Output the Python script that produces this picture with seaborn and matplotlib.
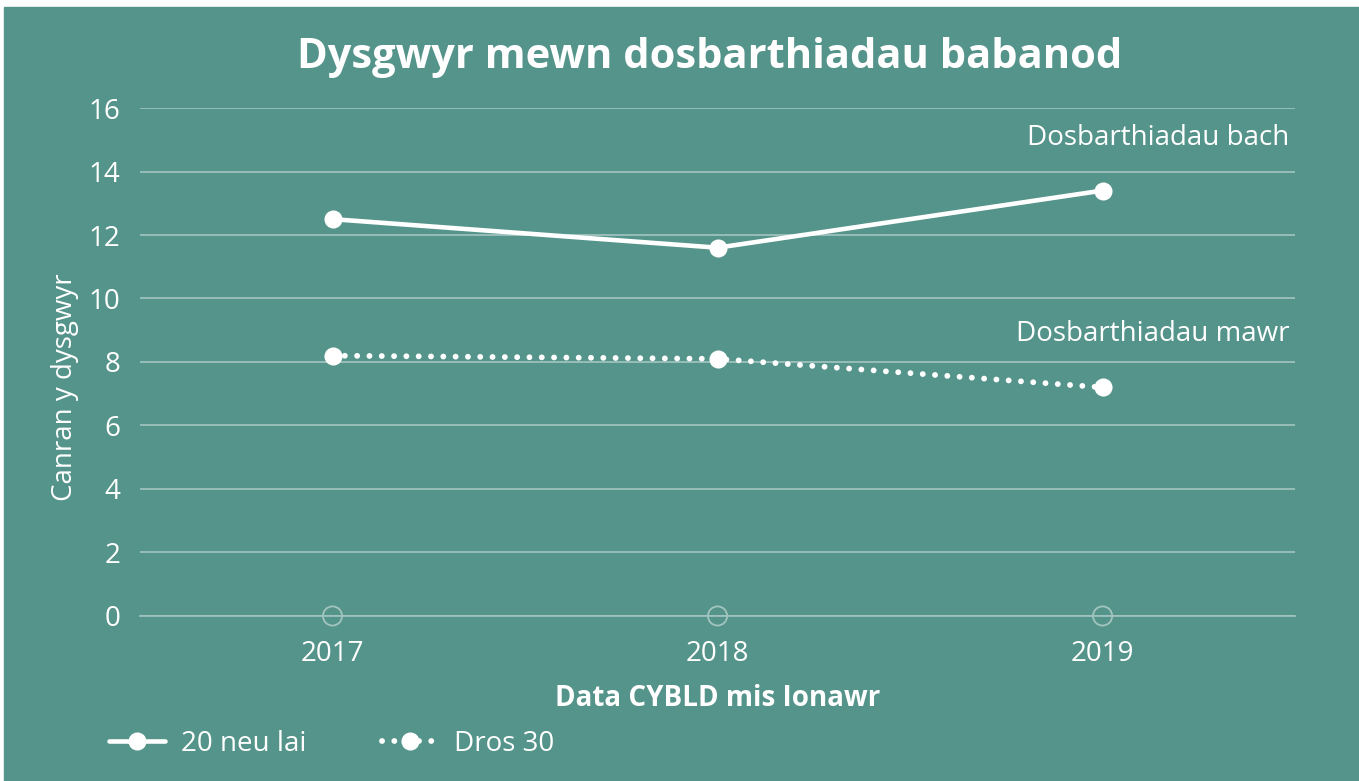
import matplotlib
matplotlib.use("Agg")
import matplotlib.pyplot as plt
import matplotlib.patches as mpatches
from matplotlib.lines import Line2D
import seaborn as sns
import pandas as pd

# data
years = ["2017", "2018", "2019"]
small_classes = [12.5, 11.6, 13.4]   # 20 neu lai
large_classes = [8.2, 8.1, 7.2]      # Dros 30
series_names = ["20 neu lai", "Dros 30"]

teal = "#55948a"
grid_col = "#a3c5bf"
fs = 20

sns.set_theme(style="white")
plt.rcParams["font.family"] = ["Open Sans", "DejaVu Sans"]

df = pd.DataFrame({
    "blwyddyn": years * 2,
    "canran": small_classes + large_classes,
    "grwp": [series_names[0]] * 3 + [series_names[1]] * 3,
})

fig = plt.figure(figsize=(13.59, 7.81), dpi=100)
fig.patch.set_facecolor("white")
# teal panel (thin white strip top/left like the original)
fig.add_artist(mpatches.Rectangle((4 / 1359, 0), 1, 1 - 7 / 781,
                                  transform=fig.transFigure, color=teal, zorder=-10))
ax = fig.add_axes([0.103, 0.2113, 0.850, 0.6504])
ax.set_facecolor(teal)

dots = (0, (0.01, 2.1))

sns.lineplot(data=df[df.grwp == series_names[0]], x="blwyddyn", y="canran",
             color="white", lw=3.3, marker="o", markersize=13, markeredgewidth=0,
             ax=ax, sort=False)
sns.lineplot(data=df[df.grwp == series_names[1]], x="blwyddyn", y="canran",
             color="white", lw=4.2, ax=ax, sort=False, linestyle=dots)
ax.lines[-1].set_dash_capstyle("round")
sns.scatterplot(data=df[df.grwp == series_names[1]], x="blwyddyn", y="canran",
                color="white", s=170, linewidth=0, ax=ax, zorder=5)

# hollow circles on the zero line
ax.scatter(years, [0] * len(years), s=190, facecolor="none",
           edgecolor=grid_col, linewidth=1.3, zorder=4, clip_on=False)

ax.set_ylim(0, 16)
ax.set_xlim(-0.5, 2.5)
ax.set_yticks(range(0, 17, 2))
ax.yaxis.grid(True, color=grid_col, lw=1.2)
ax.set_axisbelow(True)
for s in ["top", "right", "left"]:
    ax.spines[s].set_visible(False)
ax.spines["bottom"].set_color(grid_col)
ax.spines["bottom"].set_linewidth(1.2)
ax.tick_params(colors="white", labelsize=fs, length=0, pad=14)
ax.tick_params(axis="x", pad=17)

ax.set_ylabel("Canran y dysgwyr", color="white", fontsize=fs)
ax.yaxis.set_label_coords(-0.053, 0.45)
ax.set_xlabel("Data CYBLD mis Ionawr", color="white", fontsize=fs,
              fontweight="bold", labelpad=12)

fig.text(0.522, 0.927, "Dysgwyr mewn dosbarthiadau babanod", color="white",
         fontsize=30, fontweight="bold", ha="center", va="center")

ax.text(0.995, 15.05, "Dosbarthiadau bach", color="white", fontsize=fs,
        ha="right", va="center", transform=ax.get_yaxis_transform())
ax.text(0.995, 8.88, "Dosbarthiadau mawr", color="white", fontsize=fs,
        ha="right", va="center", transform=ax.get_yaxis_transform())

handles = [
    Line2D([], [], color="white", lw=3.3, marker="o", markersize=13,
           markeredgewidth=0),
    Line2D([], [], color="white", lw=4.2, linestyle=dots,
           dash_capstyle="round", marker="o", markersize=13, markeredgewidth=0),
]
leg = fig.legend(handles, series_names, loc="center left",
                 bbox_to_anchor=(0.062, 0.048), ncol=2, frameon=False,
                 fontsize=fs, labelcolor="white", handlelength=2.0,
                 handletextpad=0.6, columnspacing=2.7)

fig.savefig("out.png", dpi=100, facecolor=fig.get_facecolor())
